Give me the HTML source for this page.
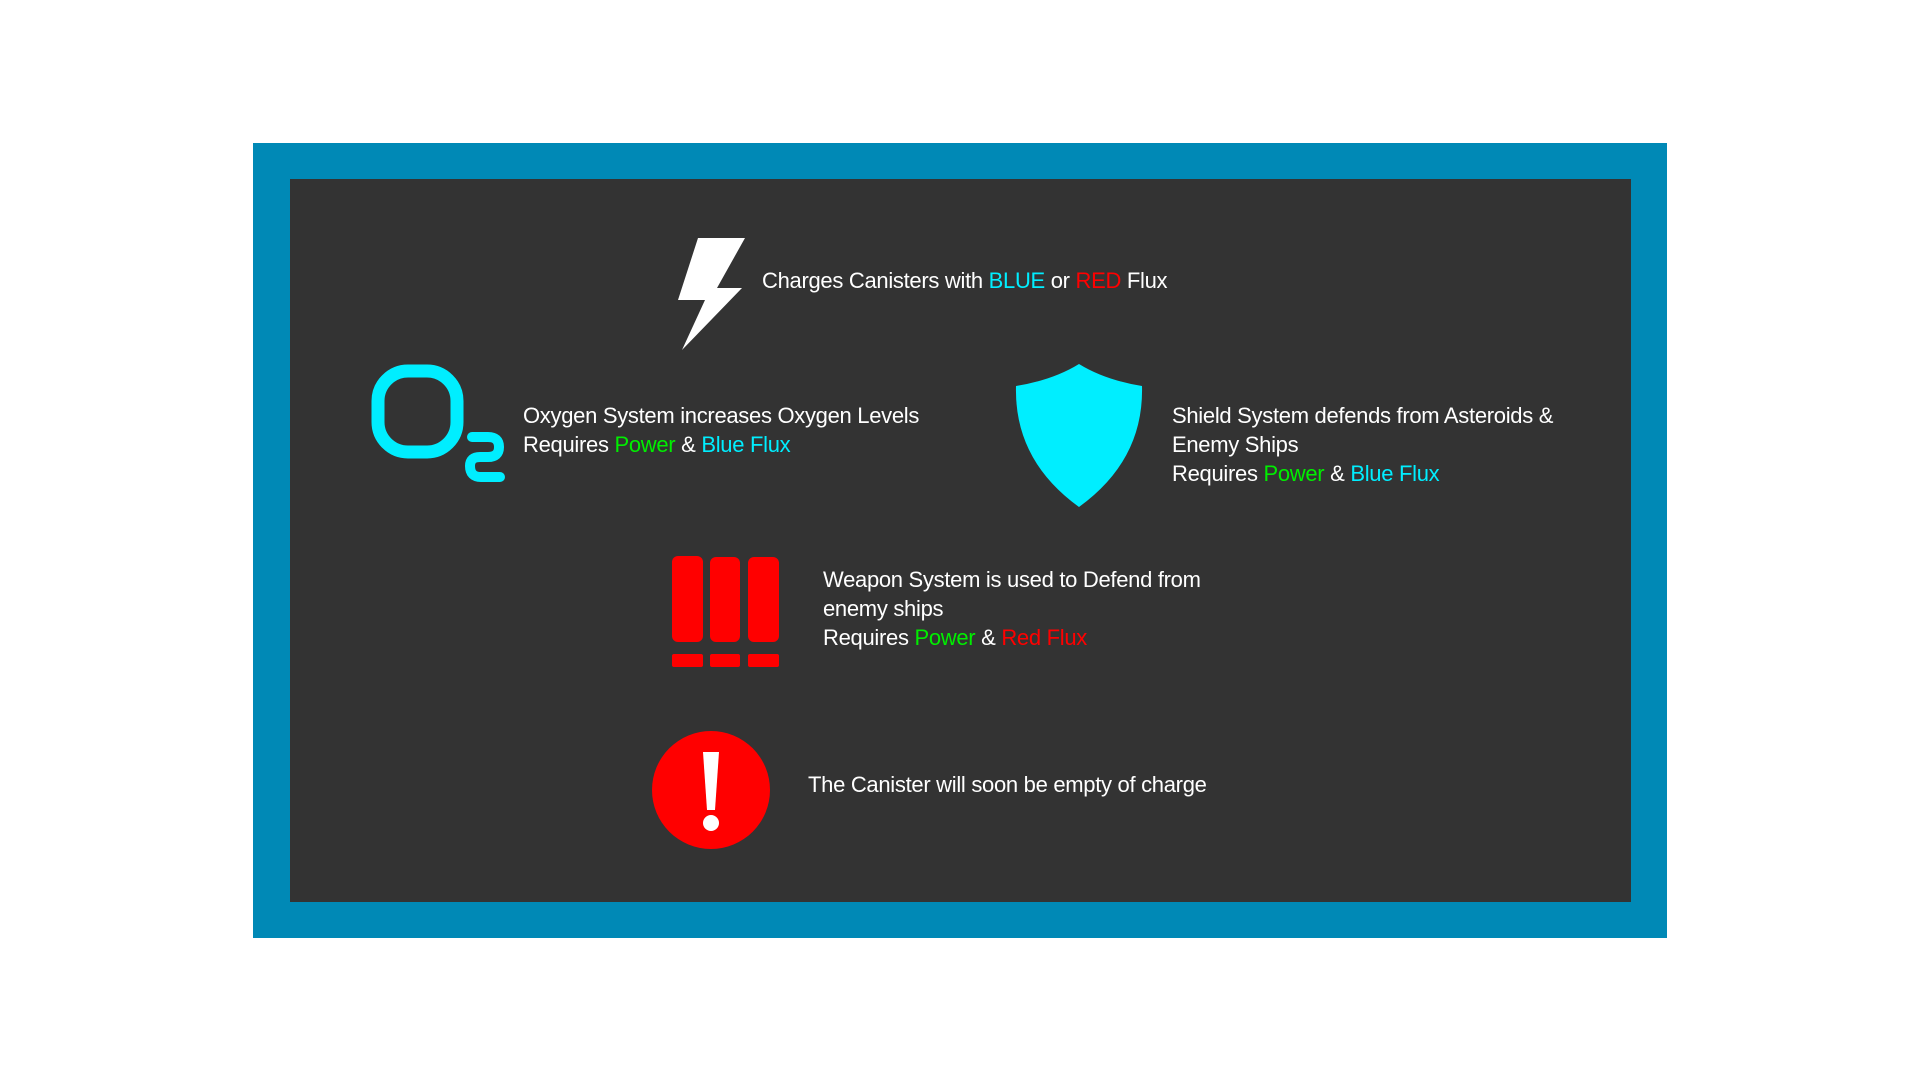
<!DOCTYPE html>
<html><head><meta charset="utf-8"><style>
body{margin:0;width:1920px;height:1080px;background:#fff;position:relative;overflow:hidden;font-family:"Liberation Sans",sans-serif;}
.t{position:absolute;color:#fff;font-size:22px;line-height:29px;white-space:nowrap;letter-spacing:-0.3px}
.b{color:#00eeff}.r{color:#ff0000}.g{color:#00ee00}
</style></head><body>
<div style="position:absolute;left:253px;top:143px;width:1414px;height:795px;background:#0089b6"></div>
<div style="position:absolute;left:290px;top:179px;width:1341px;height:723px;background:#333333"></div>
<svg style="position:absolute;left:0;top:0" width="1920" height="1080">
<polygon points="698,238 745,238 717,288 742,288 682,350 705,300 678,300" fill="#fff"/>
<rect x="378" y="371" width="79" height="81" rx="30" fill="none" stroke="#00eeff" stroke-width="13"/>
<path d="M472,437 H488 Q499,437 499,447 Q499,457 488,457 H480 Q470,457 470,466 Q470,477 481,477 H500" fill="none" stroke="#00eeff" stroke-width="10" stroke-linecap="round"/>
<path d="M1079,364 Q1105,380 1142,386 Q1144,460 1079,507 Q1014,460 1016,386 Q1053,380 1079,364Z" fill="#00eeff"/>
<rect x="672" y="556" width="31" height="86" rx="6" fill="#f00"/>
<rect x="710" y="557" width="30" height="85" rx="6" fill="#f00"/>
<rect x="748" y="557" width="31" height="85" rx="6" fill="#f00"/>
<rect x="672" y="654" width="31" height="13" rx="2" fill="#f00"/>
<rect x="710" y="654" width="30" height="13" rx="2" fill="#f00"/>
<rect x="748" y="654" width="31" height="13" rx="2" fill="#f00"/>
<circle cx="711" cy="790" r="59" fill="#f00"/>
<polygon points="703,752 719,752 715,810 707,810" fill="#fff"/>
<circle cx="711" cy="823" r="8" fill="#fff"/>
</svg>
<div class="t" style="left:762px;top:266px">Charges Canisters with <span class="b">BLUE</span> or <span class="r">RED</span> Flux</div>
<div class="t" style="left:523px;top:401px">Oxygen System increases Oxygen Levels<br>Requires <span class="g">Power</span> &amp; <span class="b">Blue Flux</span></div>
<div class="t" style="left:1172px;top:401px">Shield System defends from Asteroids &amp;<br>Enemy Ships<br>Requires <span class="g">Power</span> &amp; <span class="b">Blue Flux</span></div>
<div class="t" style="left:823px;top:565px">Weapon System is used to Defend from<br>enemy ships<br>Requires <span class="g">Power</span> &amp; <span class="r">Red Flux</span></div>
<div class="t" style="left:808px;top:770px">The Canister will soon be empty of charge</div>
</body></html>
